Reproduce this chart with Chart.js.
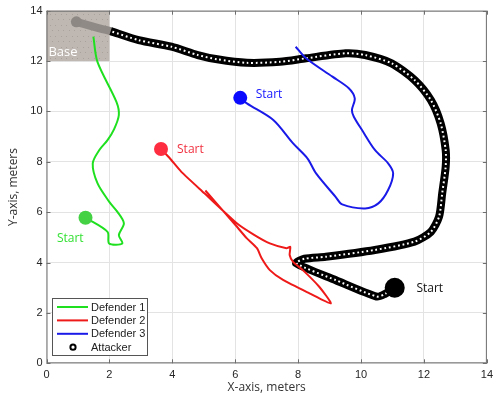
<!DOCTYPE html>
<html>
<head>
<meta charset="utf-8">
<script src="https://cdn.jsdelivr.net/npm/chart.js@4.4.0/dist/chart.umd.min.js"></script>
<style>
html, body { margin: 0; padding: 0; background: #fff; }
</style>
</head>
<body>
<canvas id="myChart" width="498" height="402"></canvas>
<script>
// axis ticks
const xTicks = [0, 2, 4, 6, 8, 10, 12, 14]
const yTicks = [0, 2, 4, 6, 8, 10, 12, 14]

// defender 1 (green)
const d1X = [1.24, 1.94, 1.99, 2.41, 2.30, 2.46, 2.25, 1.99, 1.62, 1.47, 1.68, 1.94, 2.15, 2.30, 2.22, 1.62, 1.49]
const d1Y = [5.78, 5.22, 4.76, 4.76, 5.09, 5.56, 6.02, 6.42, 7.15, 7.94, 8.47, 8.86, 9.30, 9.86, 10.39, 11.97, 12.97]

// defender 2 (red)
const d2X = [3.64, 3.92, 4.28, 5.02, 6.06, 6.60, 7.10, 7.63, 7.75, 7.73, 7.84, 8.15, 8.67, 9.04, 8.36, 7.52, 7.10, 6.84, 6.69, 6.37, 6.00, 5.05]
const d2Y = [8.51, 8.14, 7.61, 6.75, 5.55, 5.10, 4.76, 4.57, 4.62, 4.30, 4.03, 3.70, 3.04, 2.38, 2.78, 3.31, 3.70, 4.17, 4.57, 4.96, 5.50, 6.86]

// defender 3 (blue)
const d3X = [6.16, 6.37, 7.21, 7.84, 8.30, 8.57, 9.19, 9.40, 10.13, 10.55, 10.86, 11.02, 10.86, 10.44, 10.03, 9.77, 9.71, 9.80, 9.61, 9.09, 8.25, 7.92]
const d3Y = [10.54, 10.32, 9.66, 8.73, 8.13, 7.54, 6.61, 6.31, 6.15, 6.35, 6.88, 7.54, 7.94, 8.47, 9.26, 9.79, 10.06, 10.52, 10.92, 11.38, 12.11, 12.57]

// attacker
const atX = [11.07, 10.75, 10.50, 9.20, 7.94, 8.20, 8.88, 10.44, 11.70, 12.22, 12.48, 12.58, 12.69, 12.69, 12.53, 12.22, 11.70, 10.97, 10.13, 9.51, 8.25, 7.42, 6.37, 5.43, 4.81, 3.97, 2.93, 2.04]
const atY = [3.00, 2.75, 2.65, 3.30, 3.97, 4.15, 4.23, 4.50, 4.83, 5.22, 5.82, 6.75, 7.80, 8.47, 9.53, 10.45, 11.25, 11.91, 12.24, 12.31, 12.11, 11.97, 11.93, 12.07, 12.24, 12.57, 12.83, 13.19]

// attacker trail inside the base
const baseTrailX = [2.04, 1.68, 0.95]
const baseTrailY = [13.19, 13.30, 13.56]

// start markers: defender 1, 2, 3, attacker
const startX = [1.24, 3.64, 6.16, 11.07]
const startY = [5.78, 8.51, 10.54, 3.00]
const startColors = ['#44d144', '#ff2d40', '#0a0aff', '#000000']
const startRadius = [7, 7, 7, 10]

// "Start" labels (left edge, middle)
const labelX = [0.33, 4.15, 6.65, 11.76]
const labelY = [4.96, 8.47, 10.65, 2.95]
const labelColors = ['#33e033', '#f0303f', '#1515ff', '#111111']

const baseBox = [0, 2, 12, 14]

function pts(xs, ys) {
    return xs.map(function (x, i) { return { x: x, y: ys[i] } })
}

const green = '#1fe01f'
const red = '#ee1a1a'
const blue = '#1a1ae8'

const datasets = [
    {
        label: 'start', data: pts(startX, startY), showLine: false,
        pointRadius: startRadius, pointBackgroundColor: startColors,
        pointBorderColor: startColors, pointBorderWidth: 0
    },
    { label: 'Defender 1', data: pts(d1X, d1Y), showLine: true, borderColor: green, borderWidth: 2, pointRadius: 0, tension: 0.3 },
    { label: 'Defender 2', data: pts(d2X, d2Y), showLine: true, borderColor: red, borderWidth: 2, pointRadius: 0, tension: 0.2 },
    { label: 'Defender 3', data: pts(d3X, d3Y), showLine: true, borderColor: blue, borderWidth: 2, pointRadius: 0, tension: 0.3 },
    {
        label: 'attacker-holes', data: pts(atX, atY), showLine: true, borderColor: '#ffffff',
        borderWidth: 2, borderDash: [1.8, 2.8], borderCapStyle: 'butt', pointRadius: 0, tension: 0.25
    },
    { label: 'Attacker', data: pts(atX, atY), showLine: true, borderColor: '#000000', borderWidth: 8, pointRadius: 0, tension: 0.25 },
    {
        label: 'base-dot', data: pts([baseTrailX[2]], [baseTrailY[2]]), showLine: false,
        pointRadius: 5.5, pointBackgroundColor: '#8d8884', pointBorderWidth: 0
    },
    {
        label: 'base-trail', data: pts(baseTrailX, baseTrailY), showLine: true, borderColor: '#8f8a86',
        borderWidth: 8, borderCapStyle: 'round', pointRadius: 0, tension: 0.2
    }
]

const fontTicks = { family: 'Liberation Sans', size: 11 }
const fontTitle = { family: 'Open Sans', size: 12 }

const basePlugin = {
    id: 'basePlugin',
    beforeDatasetsDraw(chart) {
        const ctx = chart.ctx
        const xs = chart.scales.x, ys = chart.scales.y
        const l = xs.getPixelForValue(baseBox[0]), r = xs.getPixelForValue(baseBox[1])
        const b = ys.getPixelForValue(baseBox[2]), t = ys.getPixelForValue(baseBox[3])
        ctx.save()
        ctx.fillStyle = '#bfb7b1'
        ctx.fillRect(l, t, r - l, b - t)
        ctx.fillStyle = '#a9a19b'
        for (let yy = t + 3, row = 0; yy < b; yy += 5.5, row++) {
            for (let xx = l + 3 + (row % 2) * 2.75; xx < r; xx += 5.5) {
                ctx.fillRect(Math.round(xx), Math.round(yy), 1, 1)
            }
        }
        ctx.fillStyle = '#ffffff'
        ctx.font = '13px "Open Sans"'
        ctx.textBaseline = 'middle'
        ctx.fillText('Base', xs.getPixelForValue(0.06), ys.getPixelForValue(12.36))
        ctx.restore()
    },
    afterDatasetsDraw(chart) {
        const ctx = chart.ctx
        const xs = chart.scales.x, ys = chart.scales.y
        const a = chart.chartArea
        ctx.save()
        // Start labels
        ctx.font = '12px "Open Sans"'
        ctx.textBaseline = 'middle'
        for (let i = 0; i < labelX.length; i++) {
            ctx.fillStyle = labelColors[i]
            ctx.fillText('Start', xs.getPixelForValue(labelX[i]), ys.getPixelForValue(labelY[i]))
        }
        // box with inward ticks
        ctx.strokeStyle = '#6e6e6e'
        ctx.lineWidth = 1
        ctx.strokeRect(a.left + 0.5, a.top + 0.5, a.right - a.left - 1, a.bottom - a.top - 1)
        ctx.beginPath()
        xTicks.forEach(function (v) {
            const px = Math.round(xs.getPixelForValue(v)) + 0.5
            ctx.moveTo(px, a.bottom); ctx.lineTo(px, a.bottom - 4)
            ctx.moveTo(px, a.top); ctx.lineTo(px, a.top + 4)
        })
        yTicks.forEach(function (v) {
            const py = Math.round(ys.getPixelForValue(v)) + 0.5
            ctx.moveTo(a.left, py); ctx.lineTo(a.left + 4, py)
            ctx.moveTo(a.right, py); ctx.lineTo(a.right - 4, py)
        })
        ctx.stroke()

        // legend
        const lx = 52.5, ly = 298.5, lw = 95, lh = 57
        ctx.fillStyle = '#ffffff'
        ctx.fillRect(lx, ly, lw, lh)
        ctx.strokeStyle = '#555555'
        ctx.strokeRect(lx, ly, lw, lh)
        const rows = [
            { text: 'Defender 1', color: green },
            { text: 'Defender 2', color: red },
            { text: 'Defender 3', color: blue },
            { text: 'Attacker', color: null }
        ]
        ctx.font = '11px "Liberation Sans"'
        ctx.textBaseline = 'middle'
        rows.forEach(function (row, i) {
            const yy = ly + 8.5 + i * 13.4
            if (row.color) {
                ctx.strokeStyle = row.color
                ctx.lineWidth = 2
                ctx.beginPath()
                ctx.moveTo(lx + 4.5, yy); ctx.lineTo(lx + 35.5, yy)
                ctx.stroke()
            } else {
                ctx.strokeStyle = '#000000'
                ctx.lineWidth = 2
                ctx.beginPath()
                ctx.arc(lx + 20.5, yy, 2.6, 0, Math.PI * 2)
                ctx.stroke()
            }
            ctx.fillStyle = '#222222'
            ctx.fillText(row.text, lx + 38.5, yy + 0.5)
        })
        ctx.restore()
    }
}

const config = {
    type: 'scatter',
    data: { datasets: datasets },
    options: {
        responsive: false,
        animation: false,
        layout: { padding: { left: 0, right: 4.5, top: 10.7, bottom: 0 } },
        plugins: { legend: { display: false }, tooltip: { enabled: false } },
        scales: {
            x: {
                type: 'linear', min: 0, max: 14,
                afterBuildTicks: function (s) { s.ticks = xTicks.map(function (v) { return { value: v } }) },
                afterFit: function (s) { s.height = 38.7 },
                ticks: { font: fontTicks, color: '#262626', padding: 5, maxRotation: 0 },
                grid: { color: '#e3e3e3', drawTicks: false },
                border: { display: false },
                title: { display: true, text: 'X-axis, meters', font: fontTitle, color: '#333333', padding: { top: 0, bottom: 7 } }
            },
            y: {
                type: 'linear', min: 0, max: 14,
                afterBuildTicks: function (s) { s.ticks = yTicks.map(function (v) { return { value: v } }) },
                afterFit: function (s) { s.width = 46.5 },
                ticks: { font: fontTicks, color: '#262626', padding: 4 },
                grid: { color: '#e3e3e3', drawTicks: false },
                border: { display: false },
                title: { display: true, text: 'Y-axis, meters', font: fontTitle, color: '#333333', padding: { top: 6, bottom: 0 } }
            }
        }
    },
    plugins: [basePlugin]
}

const myChart = new Chart(document.getElementById('myChart'), config)
</script>
</body>
</html>
